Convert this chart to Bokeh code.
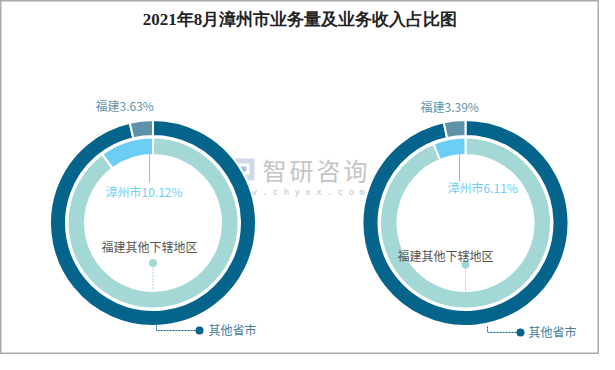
import math
from bokeh.plotting import figure
from bokeh.models import Range1d
from bokeh.embed import file_html
from bokeh.resources import INLINE
from bokeh.core.properties import value

# ---------------- data ----------------
title = "2021年8月漳州市业务量及业务收入占比图"
# outer ring: 福建 vs 其他省市 ; inner ring: 漳州市 vs 福建其他下辖地区
outer_names = ["其他省市", "福建"]
inner_names = ["福建其他下辖地区", "漳州市"]
outer_values = [[96.37, 3.63], [96.61, 3.39]]     # chart 1, chart 2
inner_values = [[89.88, 10.12], [93.89, 6.11]]
outer_colors = ["#04648b", "#5e92aa"]
inner_colors = ["#a4d8d6", "#6ccef5"]

# ---------------- figure ----------------
W, H = 599, 354
p = figure(width=W, height=H, x_range=Range1d(8, 607), y_range=Range1d(8, 362),
           output_backend="svg", toolbar_location=None, min_border=0)
p.xaxis.visible = False
p.yaxis.visible = False
p.xgrid.visible = False
p.ygrid.visible = False
p.outline_line_color = "#aaaaaa"
p.outline_line_width = 2
p.background_fill_color = "white"
p.border_fill_color = "white"


def Y(ry):
    return 370 - ry


FONT = value("Noto Sans CJK SC")

# watermark
wm_chars = ["智", "研", "咨", "询"]
p.quad(left=[239], right=[262], bottom=[Y(188)], top=[Y(166)], fill_color="#cfd9ea",
       line_color=None)
p.quad(left=[244], right=[257], bottom=[Y(182)], top=[Y(171)], fill_color="white",
       line_color=None)
p.quad(left=[247], right=[254], bottom=[Y(179)], top=[Y(174)], fill_color="#a9bfe0",
       line_color=None)
p.text(x=[270 + 27 * i for i in range(4)], y=[Y(177)] * 4, text=wm_chars,
       text_font=FONT, text_font_size="24px", text_color="#c4c4c4",
       text_align="left", text_baseline="middle")
p.text(x=[237], y=[Y(199)], text=["w w w . c h y x x . c o m"],
       text_font=value("DejaVu Sans Mono"), text_font_size="9px", text_color="#c4c4c4",
       text_align="left", text_baseline="middle")

# donuts
centers = [160.5, 473.0]
cy = Y(230.5)
R_OUT = (87.0, 103.0)
R_IN = (68.0, 85.5)


def ring(cx, vals, colors, radii):
    total = sum(vals)
    cum = 0.0
    starts, ends = [], []
    for v in vals:
        starts.append(math.pi / 2 - 2 * math.pi * cum / total)
        cum += v
        ends.append(math.pi / 2 - 2 * math.pi * cum / total)
    p.annular_wedge(x=[cx] * len(vals), y=[cy] * len(vals),
                    inner_radius=radii[0], outer_radius=radii[1],
                    start_angle=starts, end_angle=ends, direction="clock",
                    fill_color=colors, line_color="white", line_width=2)


for i, cx in enumerate(centers):
    ring(cx, outer_values[i], outer_colors, R_OUT)
    ring(cx, inner_values[i], inner_colors, R_IN)

# labels -----------------------------------------------------
fj_label_x = [103, 428]
fj_label_y = [113, 114]
zz_label_x = [113, 455]
zz_label_y = [199, 195]
zz_line_x = [157, 467]
zz_line_y0 = [150, 158]
zz_line_y1 = [190, 189]
other_fj_x = [109, 405]
other_fj_y = [254, 263]
other_fj_dot = [(160.5, 270.5), (473, 272)]
other_fj_line_end = [298, 300]
prov_start_x = [164, 495]
prov_top_y = [333, 334]
prov_y = [338, 340]
prov_dot_x = [207, 528]
prov_text_x = [216, 536]

for i in range(2):
    fj = outer_values[i][1]
    zz = inner_values[i][1]
    p.text(x=[fj_label_x[i]], y=[Y(fj_label_y[i])], text=[f"{outer_names[1]}{fj:.2f}%"],
           text_font=FONT, text_font_size="12px", text_color="#5e92aa",
           text_align="left", text_baseline="middle")
    p.segment(x0=[zz_line_x[i]], y0=[Y(zz_line_y0[i])], x1=[zz_line_x[i]], y1=[Y(zz_line_y1[i])],
              line_color="#6ccef5", line_width=1)
    p.text(x=[zz_label_x[i]], y=[Y(zz_label_y[i])], text=[f"{inner_names[1]}{zz:.2f}%"],
           text_font=FONT, text_font_size="12px", text_color="#6ccef5",
           text_align="left", text_baseline="middle")
    # 福建其他下辖地区
    dx, dy = other_fj_dot[i]
    p.segment(x0=[dx], y0=[Y(dy)], x1=[dx], y1=[Y(other_fj_line_end[i])],
              line_color="#a4d8d6", line_width=1, line_dash="2 1")
    p.scatter(x=[dx], y=[Y(dy)], size=8, marker="circle", fill_color="#a4d8d6",
              line_color=None)
    p.text(x=[other_fj_x[i]], y=[Y(other_fj_y[i])], text=[inner_names[0]],
           text_font=FONT, text_font_size="12px", text_color="#555555",
           text_align="left", text_baseline="middle")
    # 其他省市
    p.line(x=[prov_start_x[i], prov_start_x[i], prov_dot_x[i]],
           y=[Y(prov_top_y[i]), Y(prov_y[i]), Y(prov_y[i])],
           line_color="#04648b", line_width=1, line_dash="2 1")
    p.scatter(x=[prov_dot_x[i]], y=[Y(prov_y[i])], size=8, marker="circle",
              fill_color="#04648b", line_color=None)
    p.text(x=[prov_text_x[i]], y=[Y(prov_y[i] - 1)], text=[outer_names[0]],
           text_font=FONT, text_font_size="12px", text_color="#4a7c9b",
           text_align="left", text_baseline="middle")

# title
p.text(x=[307.5], y=[Y(27)], text=[title], text_font=value("Liberation Serif"),
       text_font_size="17px", text_font_style="bold", text_color="#222222",
       text_align="center", text_baseline="middle")

open("out.html", "w").write(file_html(p, INLINE))
